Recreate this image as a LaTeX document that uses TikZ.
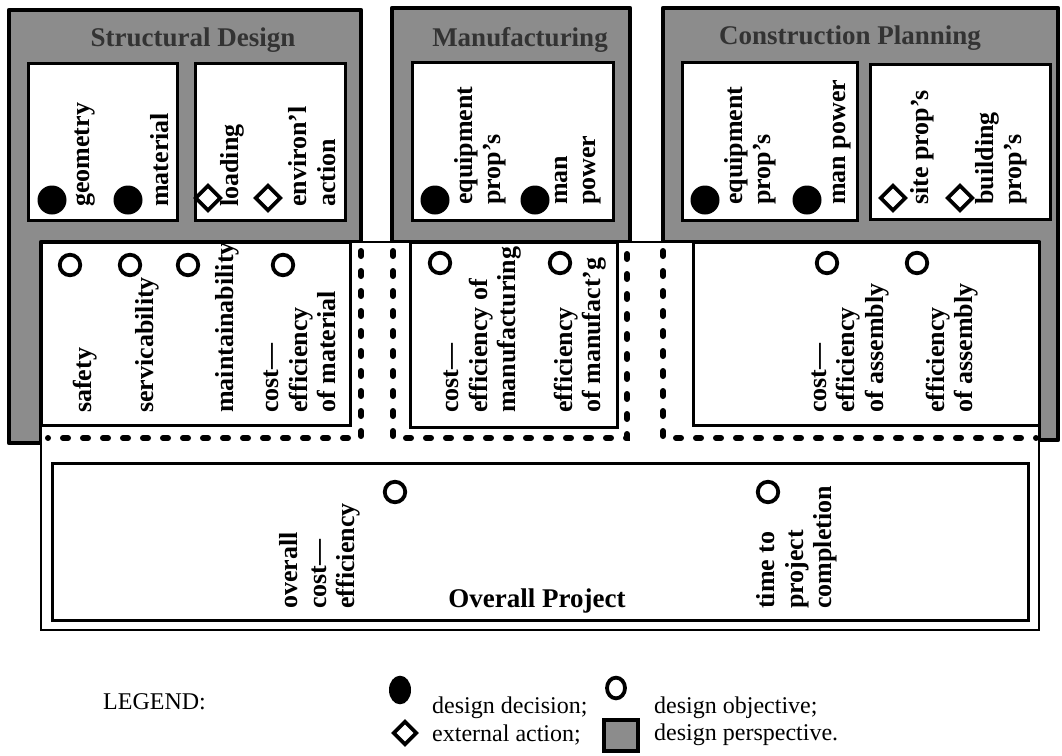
\documentclass[tikz,border=0pt]{standalone}
\usepackage{fontspec}
\setmainfont{Liberation Serif}
\usetikzlibrary{shapes.geometric}
\begin{document}
\begin{tikzpicture}[x=1pt,y=-1pt,
  persp/.style={fill=black!45, draw=black, line width=4.5pt, line join=round},
  dbox/.style={fill=white, draw=black, line width=3pt},
  obox/.style={draw=black, line width=3pt},
  dotline/.style={draw=black, line width=6pt, line cap=round, dash pattern=on 5pt off 15pt},
  title/.style={font=\bfseries\fontsize{27}{28}\selectfont, text=black!80, inner sep=0pt},
  lbl/.style={rotate=90, anchor=west, align=left, inner sep=0pt, font=\bfseries\fontsize{26}{28.5}\selectfont},
  dec/.style={circle, fill=black, minimum size=29pt, inner sep=0pt},
  obj/.style={circle, draw=black, line width=3.8pt, fill=white, minimum size=20.5pt, inner sep=0pt},
  ext/.style={diamond, draw=black, line width=3.8pt, fill=white, minimum size=26pt, inner sep=0pt},
  leg/.style={font=\fontsize{24}{26}\selectfont, anchor=west, inner sep=0pt}
]
\useasboundingbox (0,0) rectangle (1062,755);

% design perspectives
\path[persp] (9,10) -- (361,10) -- (361,242) -- (41,242) -- (41,443) -- (9,443) -- cycle;
\path[persp] (392,8) rectangle (630,242);
\path[persp] (663,8) -- (1058,8) -- (1058,440) -- (1039,440) -- (1039,242) -- (663,242) -- cycle;

\node[title] (tsd) at (193,40) {Structural Design};
\node[title] (tmf) at (520,40) {Manufacturing};
\node[title] (tcp) at (850,38) {Construction Planning};

% decision / external boxes
\path[dbox] (28,63) rectangle (177,220);
\path[dbox] (195,63) rectangle (345,220);
\path[dbox] (412,62) rectangle (613,220);
\path[dbox] (682,62) rectangle (857,220);
\path[dbox] (870,64) rectangle (1050,219);

% overall project region
\path[fill=white, draw=black, line width=2.5pt] (41,242) rectangle (1039,630);
\path[obox] (41,242) rectangle (350,425);
\path[obox] (410,242) rectangle (617,427);
\path[obox] (693,242) rectangle (1039,425);
\path[obox] (52,463) rectangle (1028,620);

% dotted boundaries
\draw[dotline] (361,251) -- (361,438) -- (48,438);
\draw[dotline] (393,251) -- (393,438) -- (627,438) -- (627,251);
\draw[dotline] (663,251) -- (663,438) -- (1036,438);

% symbols: structural design
\node[dec] (d1) at (52,200) {};
\node[dec] (d2) at (128,200) {};
\node[ext] (e1) at (208,198) {};
\node[ext] (e2) at (268,198) {};
\node[lbl] (l1) at (85,207) {geometry};
\node[lbl] (l2) at (160,207) {material};
\node[lbl] (l3) at (232,207) {loading};
\node[lbl] (l4) at (312,207) {environ'l\\action};

% manufacturing
\node[dec] (d3) at (435,200) {};
\node[dec] (d4) at (535,200) {};
\node[lbl] (l5) at (480,205) {equipment\\prop's};
\node[lbl] (l6) at (578,205) {man\\power};

% construction planning
\node[dec] (d5) at (705,200) {};
\node[dec] (d6) at (807,200) {};
\node[ext] (e3) at (893,198) {};
\node[ext] (e4) at (960,198) {};
\node[lbl] (l7) at (750,205) {equipment\\prop's};
\node[lbl] (l8) at (842,205) {man power};
\node[lbl] (l9) at (922,205) {site prop's};
\node[lbl] (l10) at (1001,205) {building\\prop's};

% objectives: structural
\node[obj] (o1) at (70,265) {};
\node[obj] (o2) at (130,265) {};
\node[obj] (o3) at (188,265) {};
\node[obj] (o4) at (283,265) {};
\node[lbl] (m1) at (85,413) {safety};
\node[lbl] (m2) at (147,413) {servicability};
\node[lbl] (m3) at (227,413) {maintainability};
\node[lbl] (m4) at (300,413) {cost---\\efficiency\\of material};

% objectives: manufacturing
\node[obj] (o5) at (440,263) {};
\node[obj] (o6) at (560,263) {};
\node[lbl] (m5) at (483,413) {cost---\\efficiency of\\manufacturing};
\node[lbl] (m6) at (580,413) {efficiency\\of manufact'g};

% objectives: construction
\node[obj] (o7) at (827,263) {};
\node[obj] (o8) at (917,263) {};
\node[lbl] (m7) at (850,413) {cost---\\efficiency\\of assembly};
\node[lbl] (m8) at (952,413) {efficiency\\of assembly};

% overall
\node[obj] (o9) at (395,492) {};
\node[obj] (o10) at (768,492) {};
\node[lbl] (m9) at (320,609) {overall\\cost---\\efficiency};
\node[lbl] (m10) at (797,609) {time to\\project\\completion};
\node[font=\bfseries\fontsize{27}{28}\selectfont, inner sep=0pt] (op) at (537,601) {Overall Project};

% legend
\node[leg] (lg) at (103,702) {LEGEND:};
\node[circle, fill=black, minimum width=22pt, minimum height=22pt, inner sep=0pt, yscale=1.3] (ld) at (400,690) {};
\node[leg] (ldt) at (432,708) {design decision;};
\node[obj, minimum size=18pt, yscale=1.15] (lo) at (616,688) {};
\node[leg] (lot) at (654,708) {design objective;};
\node[ext, minimum size=24pt] (le) at (405,733) {};
\node[leg] (let) at (432,735) {external action;};
\path[fill=black!45, draw=black, line width=4pt] (604,720) rectangle (638,751);
\node[leg] (lpt) at (654,735) {design perspective.};
\end{tikzpicture}
\end{document}
